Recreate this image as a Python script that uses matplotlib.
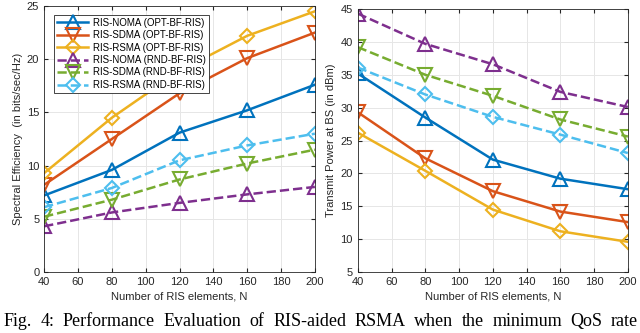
import numpy as np
import matplotlib.pyplot as plt

# data
N = [40, 80, 120, 160, 200]

se_noma_opt = [7.2, 9.6, 13.1, 15.2, 17.6]
se_sdma_opt = [8.2, 12.5, 16.8, 20.1, 22.5]
se_rsma_opt = [9.3, 14.5, 18.9, 22.2, 24.5]
se_noma_rnd = [4.3, 5.6, 6.5, 7.3, 8.0]
se_sdma_rnd = [5.2, 6.8, 8.7, 10.2, 11.5]
se_rsma_rnd = [6.1, 7.9, 10.5, 11.9, 13.0]

pw_noma_opt = [35.2, 28.5, 22.1, 19.2, 17.6]
pw_sdma_opt = [29.3, 22.3, 17.3, 14.2, 12.6]
pw_rsma_opt = [26.2, 20.4, 14.5, 11.2, 9.6]
pw_noma_rnd = [44.3, 39.7, 36.6, 32.4, 30.1]
pw_sdma_rnd = [39.2, 35.0, 31.8, 28.2, 25.6]
pw_rsma_rnd = [36.1, 32.0, 28.6, 25.9, 23.1]

labels = ['RIS-NOMA (OPT-BF-RIS)', 'RIS-SDMA (OPT-BF-RIS)', 'RIS-RSMA (OPT-BF-RIS)',
          'RIS-NOMA (RND-BF-RIS)', 'RIS-SDMA (RND-BF-RIS)', 'RIS-RSMA (RND-BF-RIS)']
colors = ['#0072BD', '#D95319', '#EDB120', '#7E2F8E', '#77AC30', '#4DBEEE']
markers = ['^', 'v', 'D', '^', 'v', 'D']
styles = ['-', '-', '-', '--', '--', '--']

caption = 'Fig. 4: Performance Evaluation of RIS-aided RSMA when the minimum QoS rate'

txt = '#262626'
plt.rcParams['font.family'] = ['Liberation Sans', 'DejaVu Sans']

fig = plt.figure(figsize=(6.4, 3.33), dpi=100)
ax1 = fig.add_axes([0.069, 0.183, 0.423, 0.799])
ax2 = fig.add_axes([0.559, 0.183, 0.422, 0.790])


def draw(ax, series):
    for i, y in enumerate(series):
        ms = 9.5 if markers[i] != 'D' else 7.5
        ax.plot(N, y, linestyle=styles[i], color=colors[i], marker=markers[i], ms=ms,
                mfc='none', mew=1.5, lw=1.8, label=labels[i])
    ax.set_xlim(40, 200)
    ax.set_xticks(range(40, 201, 20))
    ax.grid(True, color='#e6e6e6', lw=0.7)
    ax.set_axisbelow(True)
    ax.tick_params(labelsize=8, colors=txt, direction='in', length=3, top=True, right=True)
    for s in ax.spines.values():
        s.set_color(txt)
        s.set_linewidth(0.6)
    ax.set_xlabel('Number of RIS elements, N', fontsize=8, color=txt, labelpad=3)


draw(ax1, [se_noma_opt, se_sdma_opt, se_rsma_opt, se_noma_rnd, se_sdma_rnd, se_rsma_rnd])
ax1.set_ylim(0, 25)
ax1.set_yticks(range(0, 26, 5))
ax1.set_ylabel('Spectral Efficiency  (in bits/sec/Hz)', fontsize=8, color=txt, labelpad=3)
leg = ax1.legend(loc='upper left', fontsize=7, bbox_to_anchor=(0.02, 0.985),
                 fancybox=False, framealpha=1, edgecolor=txt, handlelength=3.2,
                 borderpad=0.3, labelspacing=0.25, handletextpad=0.5)
leg.get_frame().set_linewidth(0.6)

draw(ax2, [pw_noma_opt, pw_sdma_opt, pw_rsma_opt, pw_noma_rnd, pw_sdma_rnd, pw_rsma_rnd])
ax2.set_ylim(5, 45)
ax2.set_yticks(range(5, 46, 5))
ax2.set_ylabel('Transmit Power at BS (in dBm)', fontsize=8, color=txt, labelpad=3)

# justified caption, clipped at the bottom like the source
fig.canvas.draw()
r = fig.canvas.get_renderer()
words = caption.split(' ')
objs = [fig.text(0, 0.02, w, fontsize=13, family='Liberation Serif', color='black',
                 va='baseline') for w in words]
widths = [o.get_window_extent(r).width / 640 for o in objs]
x0, x1 = 0.006, 0.997
gap = (x1 - x0 - sum(widths)) / (len(words) - 1)
x = x0
for o, w in zip(objs, widths):
    o.set_x(x)
    x += w + gap

fig.savefig('out.png', dpi=100)
